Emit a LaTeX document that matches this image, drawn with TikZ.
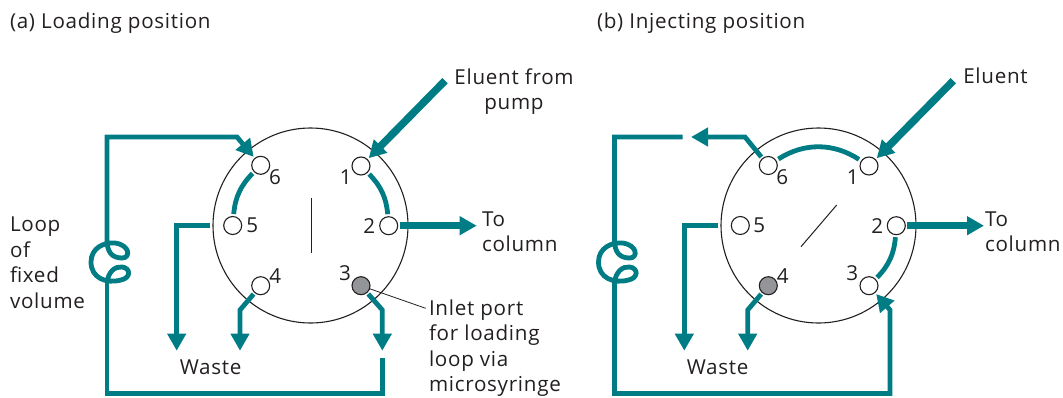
\documentclass[tikz,border=0pt]{standalone}
\usepackage{fontspec}
\setmainfont[LetterSpace=3.5]{Open Sans}
\usepackage{xcolor}
\usetikzlibrary{
	arrows.meta,
	positioning,
	calc
}
\definecolor{pipeteal}{HTML}{007C85}
\definecolor{inktext}{HTML}{231F20}
\definecolor{portgrey}{HTML}{939598}
\tikzset{
	valve/.style={circle,draw=inktext,line width=1.1pt,minimum size=195pt,inner sep=0pt,outer sep=0pt},
	port/.style={circle,draw=inktext,fill=white,line width=1.1pt,minimum size=18pt,inner sep=0pt,outer sep=0pt},
	loadport/.style={port,fill=portgrey},
	txt/.style={font=\fontsize{20.6}{25.5}\selectfont,text=inktext,inner sep=0pt,outer sep=0pt},
	pipe/.style={draw=pipeteal,line width=4.8pt,line join=miter},
	widepipe/.style={draw=pipeteal,line width=7.5pt},
	headtip/.style={-{Triangle[length=17pt,width=18pt,fill=pipeteal]}},
}
\begin{document}
\begin{tikzpicture}[x=1pt,y=-1pt]
		\useasboundingbox (0,0) rectangle (1063,397);
		
		% Titles
		\node[txt,anchor=base west] (titleA) at (10,28) {(a) Loading position};
		\node[txt,anchor=base west] (titleB) at (597,28) {(b) Injecting position};
		
		% Valve bodies
		\node[valve] (valveA) at (310.5,225.5) {};
		\node[valve] (valveB) at (818.5,225.5) {};
		
		% Rotor marks
		\draw[draw=inktext,line width=1pt] (311.5,198) -- (311.5,252.7);
		\draw[draw=inktext,line width=1pt] (801,246.7) -- (836.7,205);
		
		% Ports, loading position
		\node[port] (a1) at (361,166) {};
		\node[port] (a2) at (388.7,225.7) {};
		\node[loadport] (a3) at (361,285.7) {};
		\node[port] (a4) at (260.7,285.7) {};
		\node[port] (a5) at (232.7,225.5) {};
		\node[port] (a6) at (260.7,165.3) {};
		
		% Ports, injecting position
		\node[port] (b1) at (869,166) {};
		\node[port] (b2) at (896.3,225.7) {};
		\node[port] (b3) at (869,285.7) {};
		\node[loadport] (b4) at (768.3,285.7) {};
		\node[port] (b5) at (740.3,225.5) {};
		\node[port] (b6) at (768.3,165.5) {};
		
		% Port numbers
		\node[txt] (numA1) at (345.7,177.3) {1};
		\node[txt] (numA2) at (369.3,225.7) {2};
		\node[txt] (numA3) at (345,273.3) {3};
		\node[txt] (numA4) at (275.3,275.7) {4};
		\node[txt] (numA5) at (252.3,225.7) {5};
		\node[txt] (numA6) at (275,177) {6};
		\node[txt] (numB1) at (852.7,177.3) {1};
		\node[txt] (numB2) at (877.3,225.7) {2};
		\node[txt] (numB3) at (852.3,273.3) {3};
		\node[txt] (numB4) at (782.7,275.7) {4};
		\node[txt] (numB5) at (759.3,225.7) {5};
		\node[txt] (numB6) at (782.3,177) {6};
		
		% Labels
		\node[txt,align=center,anchor=north] (eluentA) at (514,68.5) {Eluent from\\pump};
		\node[txt,anchor=base west] (eluentB) at (963.3,83) {Eluent};
		\node[txt,align=left,anchor=north west] (columnA) at (482,211.5) {To\\column};
		\node[txt,align=left,anchor=north west] (columnB) at (985,211.5) {To\\column};
		\node[txt,align=left,anchor=north west] (inlet) at (429,299.5) {Inlet port\\for loading\\loop via\\microsyringe};
		\node[txt,align=left,anchor=north west] (loopnote) at (10,217) {Loop\\of\\fixed\\volume};
		\node[txt,anchor=base] (wasteA) at (210.7,374) {Waste};
		\node[txt,anchor=base] (wasteB) at (717.7,374) {Waste};
		
		% Free ends and corners
		\coordinate (pumpA) at (445,80.7);
		\coordinate (pumpB) at (953.3,80.7);
		\coordinate (colA) at (476.7,225.7);
		\coordinate (colB) at (984,225.7);
		\coordinate (drainA5) at (176.7,350.7);
		\coordinate (drainA4) at (240,350.7);
		\coordinate (drainB5) at (684.3,350.7);
		\coordinate (drainB4) at (747.7,350.7);
		\coordinate (inletA) at (382.3,350.7);
		\coordinate (leaderEnd) at (425.7,308.3);
		
		% Eluent in, column out
		\draw[widepipe,headtip,shorten >=2pt] (pumpA) -- (a1);
		\draw[widepipe,headtip,shorten >=2pt] (pumpB) -- (b1);
		\draw[widepipe,headtip,line width=7pt,shorten <=2pt] (a2) -- (colA);
		\draw[widepipe,headtip,line width=7pt,shorten <=2pt] (b2) -- (colB);
		
		% Rotor grooves
		\draw[pipe,shorten <=2.5pt,shorten >=2.5pt] (a1) to[bend left=20] (a2);
		\draw[pipe,shorten <=2.5pt,shorten >=2.5pt] (a6) to[bend right=20] (a5);
		\draw[pipe,shorten <=3pt,shorten >=3pt] (b6) to[bend left=33] (b1);
		\draw[pipe,shorten <=2.5pt,shorten >=2.5pt] (b2) to[bend left=20] (b3);
		
		% Waste lines
		\draw[pipe,headtip] (210,225.7) -- (176.7,225.7) -- (drainA5);
		\draw[pipe,headtip,shorten <=2pt] (a4) -- (240,310) -- (drainA4);
		\draw[pipe,headtip] (717.7,225.7) -- (684.3,225.7) -- (drainB5);
		\draw[pipe,headtip,shorten <=2pt] (b4) -- (747.7,310) -- (drainB4);
		
		% Loop, loading position
		\draw[pipe,headtip,shorten >=2pt] (107,283)
		.. controls (108,272) and (115,266) .. (122,267)
		.. controls (131,268) and (131,278) .. (121,280)
		.. controls (106,284) and (91,278) .. (91,262)
		.. controls (91,248) and (104,242) .. (115,243)
		.. controls (130,245) and (131,258) .. (122,258)
		.. controls (112,258) and (107,252) .. (107,240)
		-- (107,137) -- (237,137) -- (a6);
		\draw[pipe] (107,281) -- (107,393.5) -- (382.3,393.5) -- (382.3,358);
		\draw[pipe,headtip,shorten <=2pt] (a3) -- (382.3,310) -- (inletA);
		
		% Loop, injecting position
		\draw[pipe,headtip,shorten <=2pt] (b6) -- (745,137) -- (691,137);
		\draw[pipe] (682.7,137) -- (614.5,137) -- (614.5,240)
		.. controls (614.5,252) and (619.5,258) .. (629.5,258)
		.. controls (638.5,258) and (637.5,245) .. (622.5,243)
		.. controls (611.5,242) and (598.5,248) .. (598.5,262)
		.. controls (598.5,278) and (613.5,284) .. (628.5,280)
		.. controls (638.5,278) and (638.5,268) .. (629.5,267)
		.. controls (622.5,266) and (615.5,272) .. (614.5,283);
		\draw[pipe,headtip,shorten >=2pt] (614.5,281) -- (614.5,393.5) -- (890,393.5) -- (890,310) -- (b3);
		
		% Leader to inlet port
		\draw[draw=inktext,line width=.8pt] (a3) -- (leaderEnd);
		
	\end{tikzpicture}
\end{document}
